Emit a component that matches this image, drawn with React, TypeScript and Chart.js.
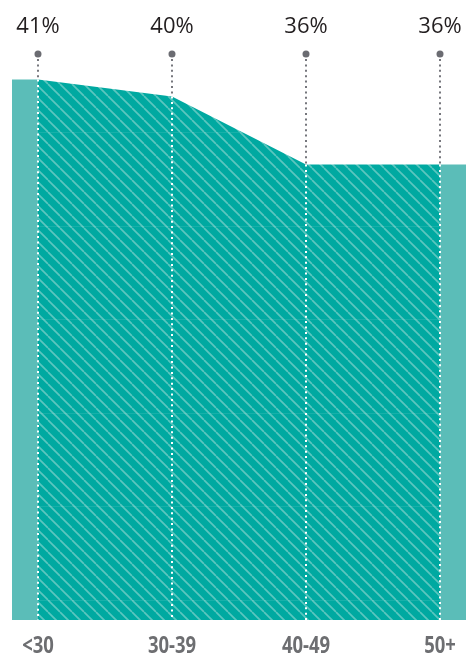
import React, { useEffect, useRef } from "react";
import { Chart, registerables } from "chart.js";

Chart.register(...registerables);

const CATEGORIES = ["<30", "30-39", "40-49", "50+"];
const VALUES = [41, 40, 36, 36];
const VALUE_LABELS = ["41%", "40%", "36%", "36%"];
const Y_MIN = 9.2;
const Y_MAX = 42.5;
const GRID_VALUES = [10.4, 15.9, 21.4, 26.9, 32.4, 37.9];
const EDGE = 0.194;

const TEAL = "#00a9a1";
const TEAL_LIGHT = "#5bbdb8";
const STRIPE = "#5cc6bf";

function makePattern(): CanvasPattern | string {
  const s = 12;
  const c = document.createElement("canvas");
  c.width = s;
  c.height = s;
  const ctx = c.getContext("2d");
  if (!ctx) return TEAL;
  ctx.fillStyle = TEAL;
  ctx.fillRect(0, 0, s, s);
  ctx.strokeStyle = STRIPE;
  ctx.lineWidth = 1.7;
  for (const k of [-s, 0, s]) {
    ctx.beginPath();
    ctx.moveTo(k, 0);
    ctx.lineTo(k + s, s);
    ctx.stroke();
  }
  const p = ctx.createPattern(c, "repeat");
  return p || TEAL;
}

const overlayPlugin = {
  id: "overlay",
  afterDatasetsDraw(chart: any) {
    const ctx: CanvasRenderingContext2D = chart.ctx;
    const xs = chart.scales.x;
    const ys = chart.scales.y;
    const area = chart.chartArea;

    // faint horizontal lines inside the hatched area
    ctx.save();
    ctx.beginPath();
    ctx.moveTo(xs.getPixelForValue(0), area.bottom);
    VALUES.forEach((v, i) => ctx.lineTo(xs.getPixelForValue(i), ys.getPixelForValue(v)));
    ctx.lineTo(xs.getPixelForValue(VALUES.length - 1), area.bottom);
    ctx.closePath();
    ctx.clip();
    ctx.strokeStyle = "rgba(255,255,255,0.09)";
    ctx.lineWidth = 1;
    GRID_VALUES.forEach((g) => {
      const y = Math.round(ys.getPixelForValue(g)) + 0.5;
      ctx.beginPath();
      ctx.moveTo(area.left, y);
      ctx.lineTo(area.right, y);
      ctx.stroke();
    });
    ctx.restore();

    VALUES.forEach((v, i) => {
      const x = xs.getPixelForValue(i);
      const yTop = ys.getPixelForValue(v);
      ctx.save();
      ctx.lineWidth = 2;
      ctx.setLineDash([2, 3.4]);
      ctx.strokeStyle = "#75767c";
      ctx.beginPath();
      ctx.moveTo(x, area.top + 5);
      ctx.lineTo(x, yTop);
      ctx.stroke();
      ctx.strokeStyle = "#ffffff";
      ctx.beginPath();
      ctx.moveTo(x, yTop);
      ctx.lineTo(x, area.bottom);
      ctx.stroke();
      ctx.restore();

      ctx.save();
      ctx.fillStyle = "#6b6c72";
      ctx.beginPath();
      ctx.arc(x, area.top, 3.5, 0, Math.PI * 2);
      ctx.fill();

      ctx.fillStyle = "#231f20";
      ctx.font = '22px "Open Sans"';
      ctx.textAlign = "center";
      ctx.textBaseline = "alphabetic";
      ctx.fillText(VALUE_LABELS[i], x, area.top - 21);

      ctx.translate(x, area.bottom + 33);
      ctx.scale(0.77, 1);
      ctx.fillStyle = "#6d6e71";
      ctx.font = 'bold 24px "Open Sans"';
      ctx.fillText(CATEGORIES[i], 0, 0);
      ctx.restore();
    });
  },
};

export default function App() {
  const ref = useRef<HTMLCanvasElement | null>(null);

  useEffect(() => {
    if (!ref.current) return;
    const last = VALUES.length - 1;
    const chart = new Chart(ref.current, {
      type: "line",
      data: {
        datasets: [
          {
            data: VALUES.map((v, i) => ({ x: i, y: v })),
            fill: "start",
            backgroundColor: makePattern() as any,
            borderWidth: 0,
            pointRadius: 0,
            tension: 0,
          },
          {
            data: [
              { x: -EDGE, y: VALUES[0] },
              { x: 0, y: VALUES[0] },
            ],
            fill: "start",
            backgroundColor: TEAL_LIGHT,
            borderWidth: 0,
            pointRadius: 0,
          },
          {
            data: [
              { x: last, y: VALUES[last] },
              { x: last + EDGE, y: VALUES[last] },
            ],
            fill: "start",
            backgroundColor: TEAL_LIGHT,
            borderWidth: 0,
            pointRadius: 0,
          },
        ],
      },
      options: {
        animation: false,
        responsive: true,
        maintainAspectRatio: false,
        layout: { padding: { left: 12, right: 2, top: 54, bottom: 35 } },
        plugins: { legend: { display: false }, tooltip: { enabled: false } },
        events: [],
        scales: {
          x: { type: "linear", display: false, min: -EDGE, max: last + EDGE },
          y: { type: "linear", display: false, min: Y_MIN, max: Y_MAX },
        },
      },
      plugins: [overlayPlugin],
    });
    return () => chart.destroy();
  }, []);

  return (
    <div style={{ position: "fixed", left: 0, top: 0, width: 468, height: 655, background: "#fff" }}>
      <canvas ref={ref} />
    </div>
  );
}
